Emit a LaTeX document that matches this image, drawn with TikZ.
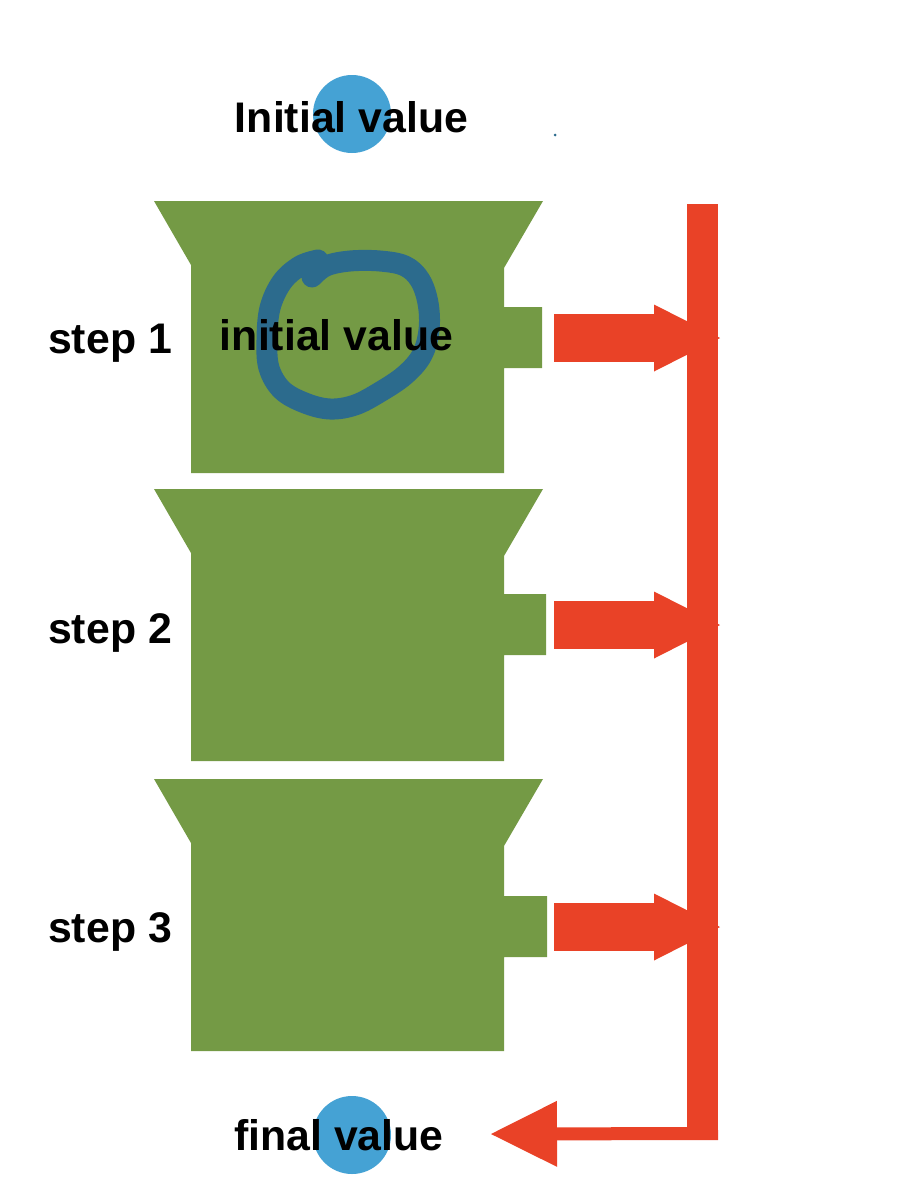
\documentclass[tikz,border=0pt]{standalone}
\usepackage{fontspec}
\setmainfont{Liberation Sans}
\usetikzlibrary{arrows.meta}
\definecolor{boxgreen}{RGB}{116,154,69}
\definecolor{busred}{RGB}{233,66,39}
\definecolor{dotblue}{RGB}{69,162,212}
\definecolor{inkblue}{RGB}{44,107,141}
\tikzset{
	lbl/.style={font=\bfseries\fontsize{42.8}{48}\selectfont,inner sep=0pt},
	valdot/.style={circle,fill=dotblue,minimum size=78pt,inner sep=0pt},
	pump/.style={fill=boxgreen},
	feed/.style={draw=busred,line width=48pt,-{Triangle[width=67pt,length=66pt,line width=0pt]}},
	bus/.style={draw=busred,line width=31pt},
	ret/.style={draw=busred,line width=13pt,-{Triangle[width=66pt,length=66pt,line width=0pt]}},
	ink/.style={draw=inkblue,line width=21pt,line cap=round,line join=round}
}
\begin{document}
\begin{tikzpicture}[x=1pt,y=-1pt]
	\useasboundingbox (0,0) rectangle (914,1200);
	\node[valdot] (initdot) at (352,114) {};
	\node[lbl,anchor=base] (initlbl) at (351.5,132) {Initial value};
	\fill[inkblue] (555,135) circle (1.5);
	% the three steps
	\foreach \t/\tab/\w/\n/\b in {201/106/542/1/353,489/105/546/2/643,779/117/547/3/942}{
		\fill[pump] (154,\t)--(543,\t)--(504,\t+67)--(504,\t+\tab)--(\w,\t+\tab)--(\w,\t+\tab+61)--(504,\t+\tab+61)--(504,\t+272)--(191,\t+272)--(191,\t+64)--cycle;
		\node[lbl,anchor=base west] (step\n) at (48,\b) {step \n};
		\coordinate (out\n) at (554,\t+\tab+31);
		\coordinate (in\n) at (720,\t+\tab+31);
		\draw[feed] (out\n)--(in\n);
	}
	\draw[ink] plot[smooth,tension=0.6] coordinates {(312,277) (326,266) (350,261) (380,261) (405,266) (420,280) (428,303) (429,330) (422,355) (405,375) (380,392) (355,405) (330,409) (305,403) (282,390) (269,368) (267,340) (270,308) (282,282) (300,266) (318,260)};
	\node[lbl,anchor=base] (boxval) at (336.5,350) {initial value};
	% collecting bar
	\coordinate (bustop) at (702.5,204);
	\coordinate (busend) at (702.5,1140);
	\draw[bus] (bustop)--(busend);
	\node[valdot] (finaldot) at (352,1135) {};
	\node[lbl,anchor=base] (finallbl) at (339,1150) {final value};
	\coordinate (retstart) at (718,1133.5);
	\coordinate (rettip) at (491,1134);
	\draw[ret] (retstart)--(rettip);
\end{tikzpicture}
\end{document}
